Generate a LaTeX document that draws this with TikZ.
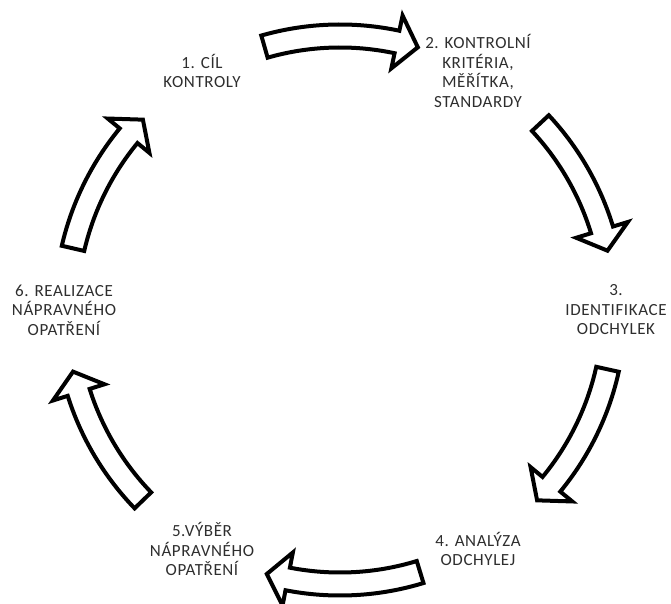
\documentclass[tikz,border=0pt]{standalone}
\usepackage{fontspec}
\setmainfont{Carlito}[LetterSpace=3.5]
\definecolor{labelgray}{HTML}{2E2E2E}
\tikzset{%
    phase/.style={align=center, inner sep=0pt, text=labelgray,
    	font=\fontsize{17}{19.5}\selectfont},
    arrowblock/.style={draw=black, fill=white, line width=4pt,
    	line join=miter}
}
% curved block arrow, clockwise from angle #1 (tail) to angle #2 (tip)
\newcommand{\cyclearrow}[2]{%
  \pgfmathsetmacro{\headbase}{#2+4.5}
  \draw[arrowblock] (#1:285.5) arc[start angle=#1, end angle=\headbase, radius=285.5]
    -- (\headbase:301) -- (#2:274) -- (\headbase:247) -- (\headbase:262.5)
    arc[start angle=\headbase, end angle=#1, radius=262.5] -- cycle;
}

\begin{document}
\begin{tikzpicture}[x=1pt, y=1pt]
  \useasboundingbox (-340,-294) rectangle (331,310);

  \node[phase] (p1) at (120:276) {1. CÍL\\KONTROLY};
  \node[phase] (p2) at (60:276) {2. KONTROLNÍ\\KRITÉRIA,\\MĚŘÍTKA,\\STANDARDY};
  \node[phase] (p3) at (0:276) {3.\\IDENTIFIKACE\\ODCHYLEK};
  \node[phase] (p4) at (-60:276) {4. ANALÝZA\\ODCHYLEJ};
  \node[phase] (p5) at (-120:276) {5.VÝBĚR\\NÁPRAVNÉHO\\OPATŘENÍ};
  \node[phase] (p6) at (180:276) {6. REALIZACE\\NÁPRAVNÉHO\\OPATŘENÍ};

  \cyclearrow{106}{73.5}
  \cyclearrow{43}{12.5}
  \cyclearrow{-12.5}{-44}
  \cyclearrow{-73}{-105.5}
  \cyclearrow{-136}{-167}
  \cyclearrow{167}{136}

\end{tikzpicture}
\end{document}
